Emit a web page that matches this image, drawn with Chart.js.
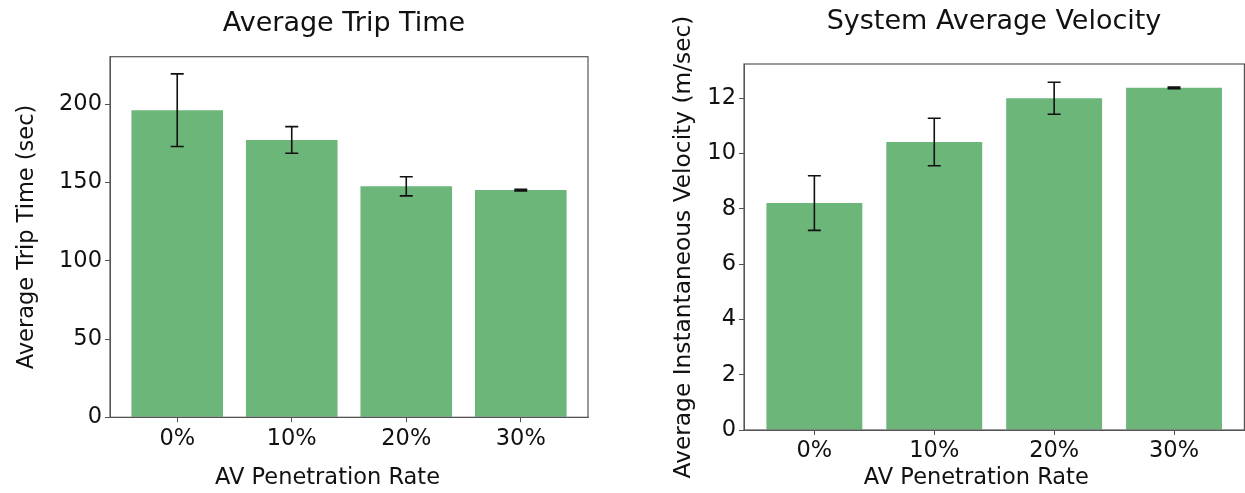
<!DOCTYPE html>
<html>
<head>
<meta charset="utf-8">
<script src="https://cdn.jsdelivr.net/npm/chart.js@4"></script>
<style>
  html, body { margin: 0; padding: 0; background: #fff; }
  body { width: 1245px; height: 493px; overflow: hidden; position: relative; }
  canvas { position: absolute; top: 0; }
  #tripChart { left: 0; }
  #velocityChart { left: 640px; }
</style>
</head>
<body>
<canvas id="tripChart" width="688" height="493" style="width:688px;height:493px"></canvas>
<canvas id="velocityChart" width="708" height="493" style="width:708px;height:493px"></canvas>
<script>
// --- DATA ---
const categories = ['0%', '10%', '20%', '30%'];
const tripTime = [196.2, 177.2, 147.6, 145.2];
const tripTimeErr = [23.2, 8.5, 6.1, 0.5];
const velocity = [8.21, 10.42, 12.0, 12.38];
const velocityErr = [0.99, 0.86, 0.58, 0.03];
const tripTicks = [0, 50, 100, 150, 200];
const velocityTicks = [0, 2, 4, 6, 8, 10, 12];

Chart.defaults.font.family = "'DejaVu Sans', sans-serif";
Chart.defaults.color = '#111';

const barColor = '#6db679';
const spineColor = '#555';

// error bars drawn from the y scale of each chart
const errorBars = {
    id: 'errorBars',
    afterDatasetsDraw(chart, args, opts) {
        const meta = chart.getDatasetMeta(0);
        const yScale = chart.scales.y;
        const values = chart.data.datasets[0].data;
        const ctx = chart.ctx;
        ctx.save();
        ctx.strokeStyle = '#111';
        ctx.lineWidth = 1.6;
        meta.data.forEach((bar, i) => {
            const v = values[i].y;
            const e = opts.errors[i];
            const top = yScale.getPixelForValue(v + e);
            const bot = yScale.getPixelForValue(v - e);
            ctx.beginPath();
            ctx.moveTo(bar.x, top); ctx.lineTo(bar.x, bot);
            ctx.moveTo(bar.x - 6.5, top); ctx.lineTo(bar.x + 6.5, top);
            ctx.moveTo(bar.x - 6.5, bot); ctx.lineTo(bar.x + 6.5, bot);
            ctx.stroke();
        });
        ctx.restore();
    }
};

// box around the plot area
const frame = {
    id: 'frame',
    afterDraw(chart) {
        const a = chart.chartArea;
        const ctx = chart.ctx;
        ctx.save();
        ctx.strokeStyle = spineColor;
        ctx.lineWidth = 1.2;
        ctx.strokeRect(a.left, a.top, a.right - a.left, a.bottom - a.top);
        ctx.restore();
    }
};

function makeChart(canvasId, cfg) {
    return new Chart(document.getElementById(canvasId), {
        type: 'bar',
        data: {
            datasets: [{
                data: cfg.values.map((v, i) => ({ x: i, y: v })),
                backgroundColor: barColor,
                borderWidth: 0,
                categoryPercentage: 1,
                barPercentage: 0.8
            }]
        },
        options: {
            responsive: false,
            animation: false,
            layout: { padding: 0 },
            plugins: {
                legend: { display: false },
                tooltip: { enabled: false },
                title: {
                    display: true,
                    text: cfg.title,
                    font: { size: 27, weight: 'normal' },
                    color: '#111',
                    padding: { top: cfg.titleTop, bottom: cfg.titleBottom }
                },
                errorBars: { errors: cfg.errors }
            },
            scales: {
                x: {
                    type: 'linear',
                    offset: false,
                    min: -0.587,
                    max: 3.587,
                    afterBuildTicks: s => { s.ticks = categories.map((c, i) => ({ value: i })); },
                    afterFit: s => { s.height = cfg.xHeight; },
                    ticks: {
                        callback: v => categories[v],
                        font: { size: 22.5 },
                        padding: 3,
                        maxRotation: 0
                    },
                    grid: { offset: false, drawOnChartArea: false, tickLength: 5, color: spineColor },
                    border: { color: spineColor },
                    title: {
                        display: true,
                        // trailing spaces nudge the label left like the original
                        text: 'AV Penetration Rate' + cfg.xPad,
                        font: { size: 22.5 },
                        padding: { top: 0, bottom: 1 }
                    }
                },
                y: {
                    min: 0,
                    max: cfg.yMax,
                    afterBuildTicks: s => { s.ticks = cfg.ticks.map(v => ({ value: v })); },
                    afterFit: s => { s.width = cfg.yWidth; },
                    ticks: { font: { size: 22.5 }, padding: 3 },
                    grid: { drawOnChartArea: false, tickLength: 5, color: spineColor },
                    border: { color: spineColor },
                    title: {
                        display: true,
                        text: cfg.yLabel,
                        font: { size: cfg.yTitleSize },
                        padding: { top: cfg.yTitlePad, bottom: 0 }
                    }
                },
                // empty right-hand space so the title centres over the plot
                spacer: {
                    type: 'linear',
                    position: 'right',
                    min: 0,
                    max: 1,
                    afterFit: s => { s.width = cfg.rightSpace; },
                    ticks: { display: false },
                    grid: { display: false },
                    border: { display: false }
                }
            }
        },
        plugins: [errorBars, frame]
    });
}

makeChart('tripChart', {
    title: 'Average Trip Time',
    yLabel: 'Average Trip Time (sec)',
    values: tripTime,
    errors: tripTimeErr,
    ticks: tripTicks,
    yMax: 230.4,
    yWidth: 110,
    xHeight: 75.7,
    rightSpace: 100,
    titleTop: 7.3,
    titleBottom: 17,
    yTitlePad: 14,
    yTitleSize: 22.5,
    xPad: '      '
});

makeChart('velocityChart', {
    title: 'System Average Velocity',
    yLabel: 'Average Instantaneous Velocity (m/sec)',
    values: velocity,
    errors: velocityErr,
    ticks: velocityTicks,
    yMax: 13.24,
    yWidth: 104,
    xHeight: 63,
    rightSpace: 103.6,
    titleTop: 5.3,
    titleBottom: 26.3,
    yTitlePad: 29.5,
    yTitleSize: 23.3,
    xPad: '     '
});
</script>
</body>
</html>
